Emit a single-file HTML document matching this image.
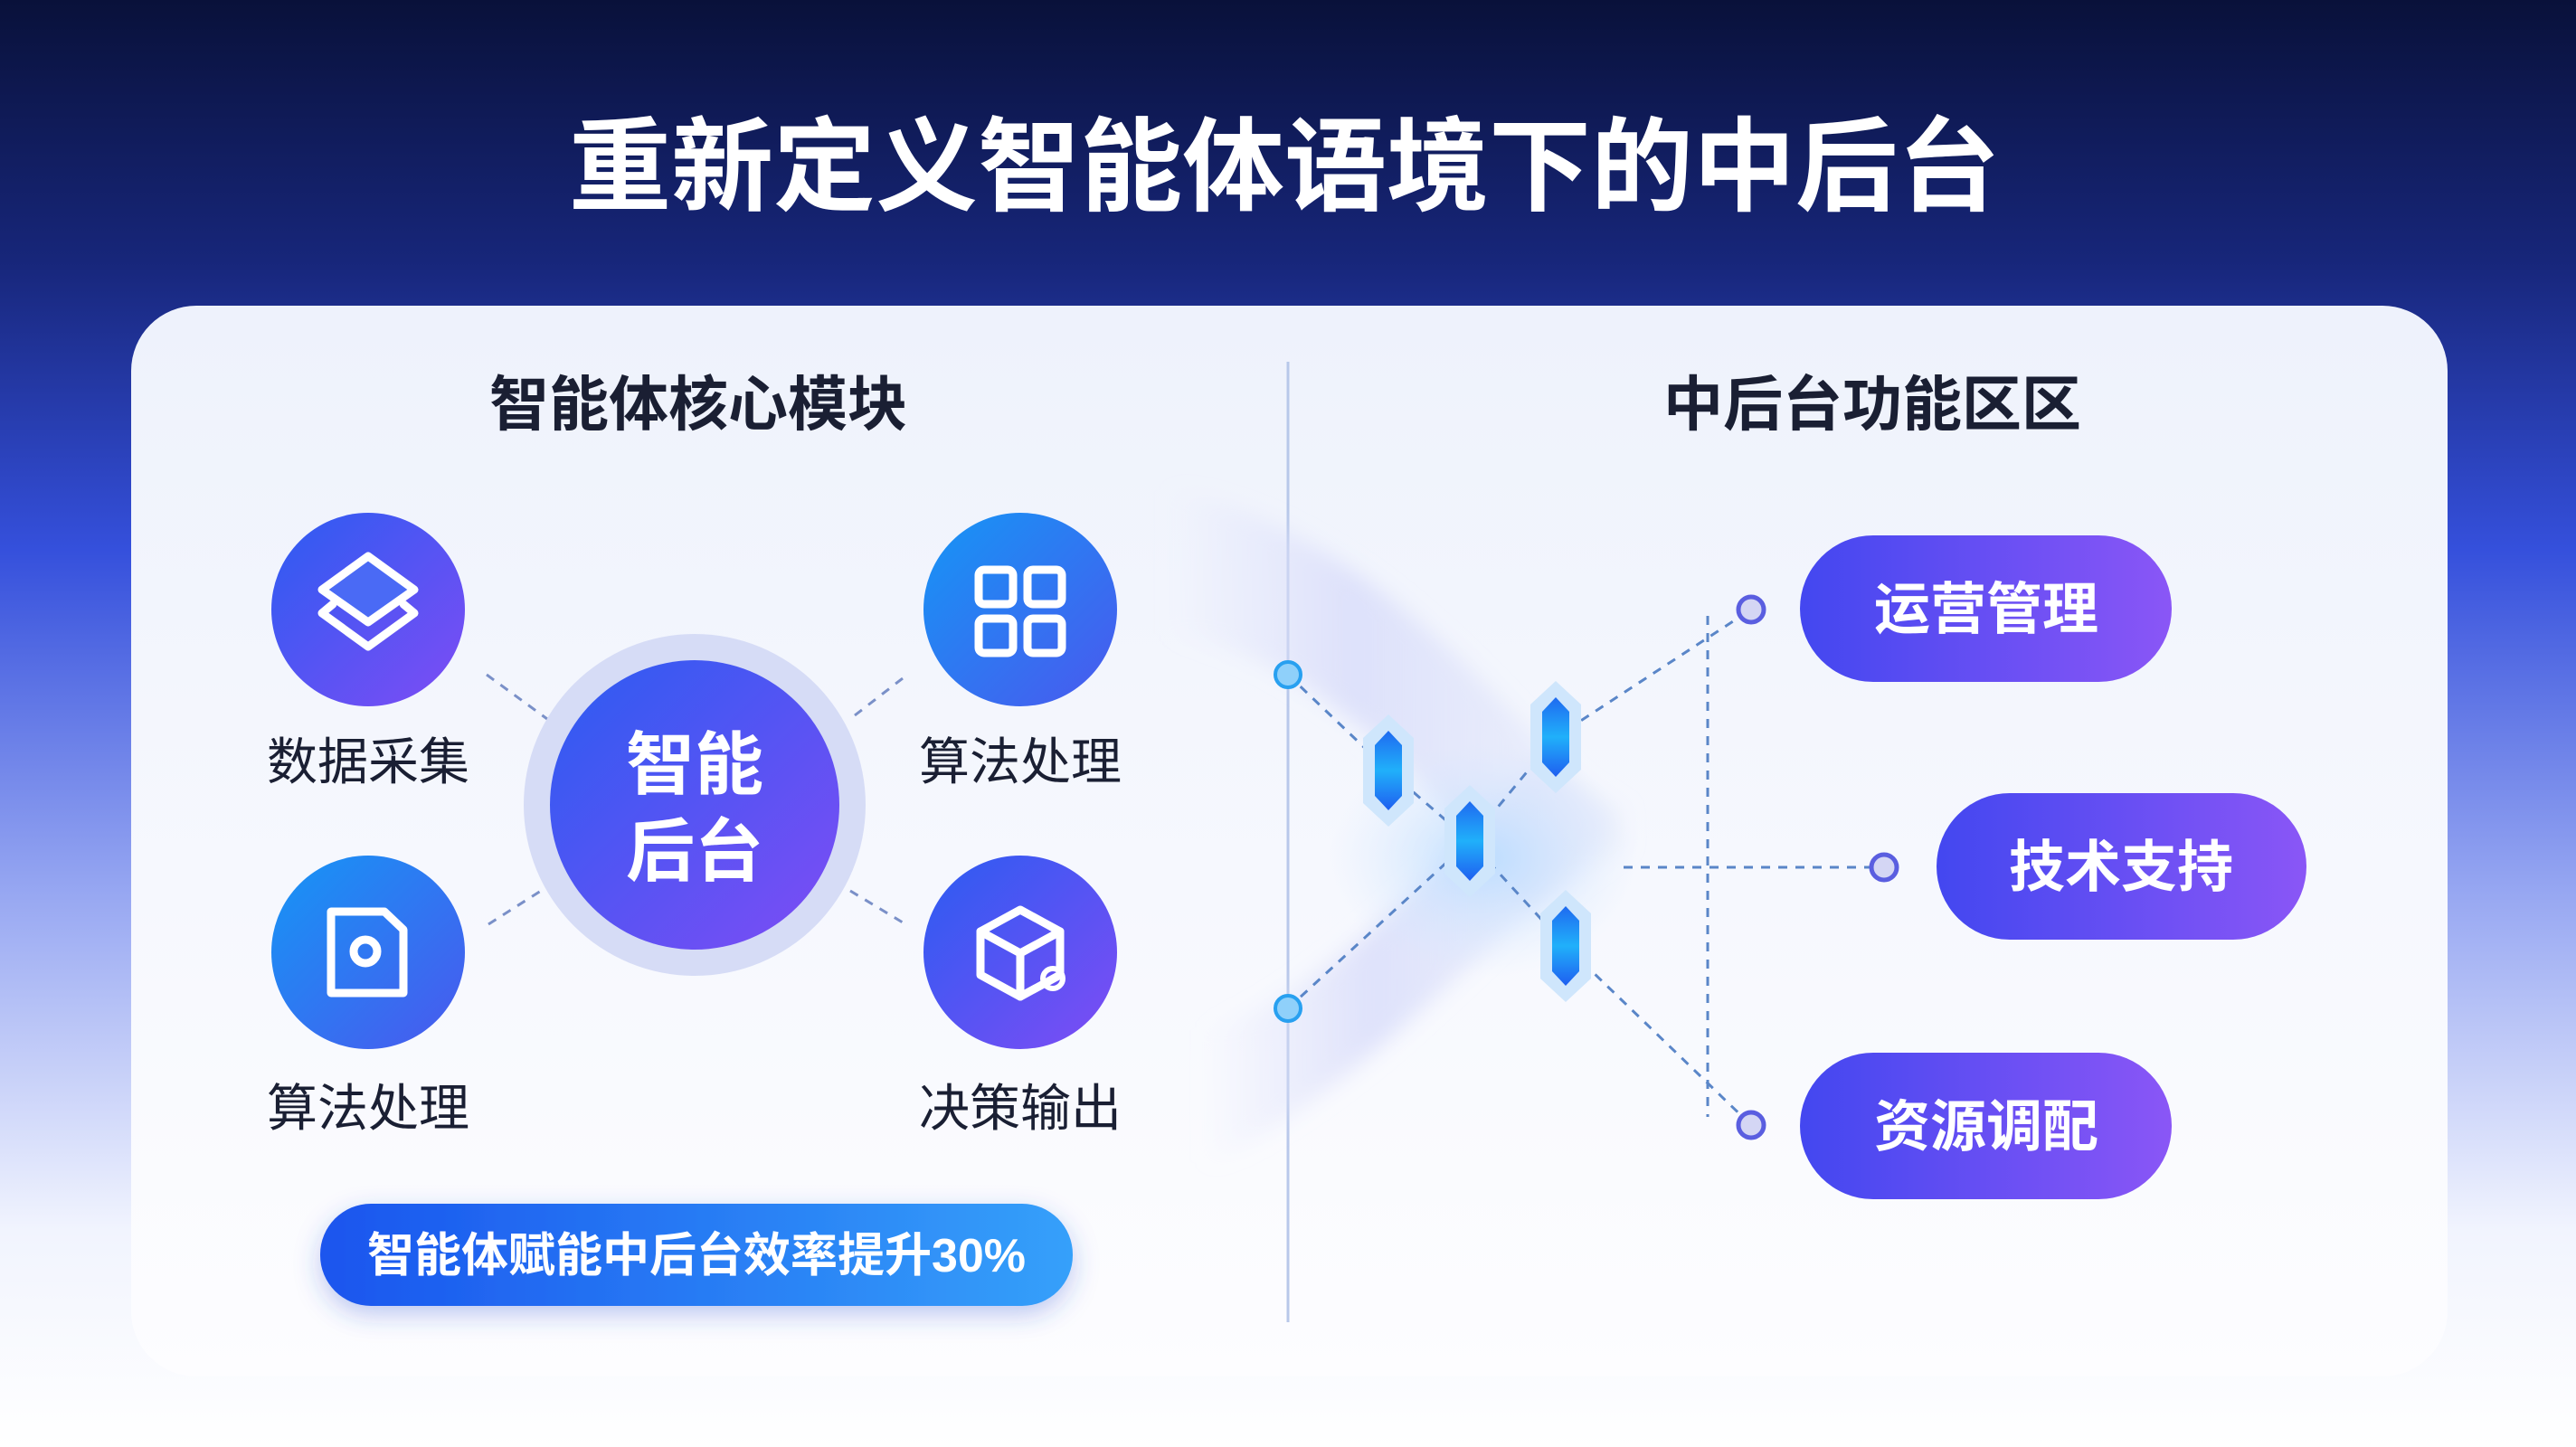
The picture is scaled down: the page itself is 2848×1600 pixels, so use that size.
<!DOCTYPE html>
<html><head><meta charset="utf-8"><style>
html,body{margin:0;padding:0;width:2848px;height:1600px;overflow:hidden}
svg text{font-family:"Liberation Sans","Noto Sans CJK SC",sans-serif}
</style></head><body>
<svg width="2848" height="1600" viewBox="0 0 2848 1600" xmlns="http://www.w3.org/2000/svg">
<defs>
<linearGradient id="bg" x1="0" y1="0" x2="0" y2="1">
<stop offset="0" stop-color="#09113a"/><stop offset="0.18" stop-color="#17267a"/>
<stop offset="0.38" stop-color="#3550dc"/><stop offset="0.62" stop-color="#98a8f2"/>
<stop offset="0.85" stop-color="#f1f4fe"/><stop offset="1" stop-color="#ffffff"/></linearGradient>
<linearGradient id="card" x1="0" y1="0" x2="0" y2="1">
<stop offset="0" stop-color="#eef2fc"/><stop offset="1" stop-color="#fdfdff"/></linearGradient>
<linearGradient id="cp" x1="0" y1="0" x2="1" y2="1">
<stop offset="0" stop-color="#2b5cf2"/><stop offset="1" stop-color="#7f4cf4"/></linearGradient>
<linearGradient id="cb" x1="0" y1="0" x2="1" y2="1">
<stop offset="0" stop-color="#1596f5"/><stop offset="1" stop-color="#4a58ee"/></linearGradient>
<linearGradient id="pill" x1="0" y1="0" x2="1" y2="0">
<stop offset="0" stop-color="#4347f0"/><stop offset="1" stop-color="#8a56f6"/></linearGradient>
<linearGradient id="bp" x1="0" y1="0" x2="1" y2="0">
<stop offset="0" stop-color="#1a55ee"/><stop offset="1" stop-color="#35a0fa"/></linearGradient>
<linearGradient id="hex" x1="0" y1="0" x2="0" y2="1">
<stop offset="0" stop-color="#1f6af0"/><stop offset="0.5" stop-color="#20b0fa"/><stop offset="1" stop-color="#1f5ef0"/></linearGradient>
<linearGradient id="rib" x1="0" y1="0" x2="1" y2="0">
<stop offset="0" stop-color="#dde0fa" stop-opacity="0"/><stop offset="0.4" stop-color="#d8dcfa" stop-opacity="0.8"/><stop offset="1" stop-color="#dde4fa" stop-opacity="0.3"/></linearGradient>
<radialGradient id="glow"><stop offset="0" stop-color="#b8dcff" stop-opacity="0.9"/><stop offset="1" stop-color="#d8e8ff" stop-opacity="0"/></radialGradient>
<filter id="sh" x="-20%" y="-40%" width="140%" height="180%"><feDropShadow dx="0" dy="10" stdDeviation="14" flood-color="#3050d0" flood-opacity="0.3"/></filter>
<filter id="bl"><feGaussianBlur stdDeviation="12"/></filter>
</defs>
<rect width="2848" height="1600" fill="url(#bg)"/>
<text x="1420" y="224" font-size="113" font-weight="bold" fill="#fff" text-anchor="middle">重新定义智能体语境下的中后台</text>
<rect x="145" y="338" width="2561" height="1184" rx="72" fill="url(#card)"/>
<line x1="1424" y1="400" x2="1424" y2="1462" stroke="#b8c8ea" stroke-width="3"/>
<text x="772" y="470" font-size="66" font-weight="bold" fill="#1a1f33" text-anchor="middle">智能体核心模块</text>
<text x="2070" y="470" font-size="66" font-weight="bold" fill="#1a1f33" text-anchor="middle">中后台功能区区</text>

<g stroke="#7a90c8" stroke-width="3" stroke-dasharray="10 9" fill="none">
<line x1="538" y1="746" x2="605" y2="795"/><line x1="945" y1="791" x2="998" y2="750"/>
<line x1="540" y1="1022" x2="598" y2="985"/><line x1="940" y1="985" x2="998" y2="1020"/>
</g>
<circle cx="768" cy="890" r="189" fill="#d6dcf6"/>
<circle cx="768" cy="890" r="160" fill="url(#cp)"/>
<text x="768" y="872" font-size="76" font-weight="bold" fill="#fff" text-anchor="middle">智能</text>
<text x="768" y="968" font-size="76" font-weight="bold" fill="#fff" text-anchor="middle">后台</text>

<circle cx="407" cy="674" r="107" fill="url(#cp)"/>
<circle cx="1128" cy="674" r="107" fill="url(#cb)"/>
<circle cx="407" cy="1053" r="107" fill="url(#cb)"/>
<circle cx="1128" cy="1053" r="107" fill="url(#cp)"/>
<g stroke="#fff" stroke-width="9" fill="none" stroke-linejoin="round" stroke-linecap="round">
<path d="M407 615 L458 652 L407 688 L356 652 Z" fill="#4a6af5"/>
<path d="M368 668 L356 678 L407 715 L458 678 L446 668"/>
<rect x="1082" y="630" width="38" height="38" rx="6"/><rect x="1136" y="630" width="38" height="38" rx="6"/>
<rect x="1082" y="684" width="38" height="38" rx="6"/><rect x="1136" y="684" width="38" height="38" rx="6"/>
<path d="M366 1008 L425 1008 L446 1028 L446 1098 L366 1098 Z"/>
<circle cx="404" cy="1052" r="13"/>
<path d="M1128 1006 L1172 1030 L1172 1078 L1128 1102 L1084 1078 L1084 1030 Z"/>
<path d="M1084 1030 L1128 1054 L1172 1030 M1128 1054 L1128 1102"/>
</g>
<circle cx="1164" cy="1082" r="11" fill="none" stroke="#fff" stroke-width="6"/>
<g font-size="56" fill="#1a1f33" text-anchor="middle">
<text x="407" y="862">数据采集</text><text x="1128" y="862">算法处理</text>
<text x="407" y="1245">算法处理</text><text x="1128" y="1245">决策输出</text></g>

<rect x="354" y="1331" width="832" height="113" rx="56" fill="url(#bp)" filter="url(#sh)"/>
<text x="770" y="1406" font-size="52" font-weight="bold" fill="#fff" text-anchor="middle">智能体赋能中后台效率提升30%</text>

<g filter="url(#bl)">
<path d="M1290 540 C1480 580 1620 720 1800 930 L1690 1010 C1560 830 1430 720 1290 700 Z" fill="url(#rib)"/>
<path d="M1330 1290 C1480 1220 1620 1070 1800 900 L1700 840 C1560 1000 1440 1110 1330 1140 Z" fill="url(#rib)"/>
</g>
<ellipse cx="1640" cy="950" rx="170" ry="130" fill="url(#glow)"/>
<g stroke="#5a86c8" stroke-width="3" stroke-dasharray="10 9" fill="none">
<polyline points="1424,746 1535,852 1625,930 1731,1046 1936,1244"/>
<polyline points="1424,1115 1625,930 1720,815 1936,674"/>
<line x1="1795" y1="959" x2="2068" y2="959"/>
<line x1="1888" y1="681" x2="1888" y2="1235"/>
</g>
<g>
<g transform="translate(1535,852)"><path d="M0 -62 L28 -36 L28 36 L0 62 L-28 36 L-28 -36 Z" fill="#cfe6fc"/><path d="M0 -44 L15 -28 L15 28 L0 44 L-15 28 L-15 -28 Z" fill="url(#hex)"/></g>
<g transform="translate(1720,815)"><path d="M0 -62 L28 -36 L28 36 L0 62 L-28 36 L-28 -36 Z" fill="#cfe6fc"/><path d="M0 -44 L15 -28 L15 28 L0 44 L-15 28 L-15 -28 Z" fill="url(#hex)"/></g>
<g transform="translate(1625,930)"><path d="M0 -62 L28 -36 L28 36 L0 62 L-28 36 L-28 -36 Z" fill="#cfe6fc"/><path d="M0 -44 L15 -28 L15 28 L0 44 L-15 28 L-15 -28 Z" fill="url(#hex)"/></g>
<g transform="translate(1731,1046)"><path d="M0 -62 L28 -36 L28 36 L0 62 L-28 36 L-28 -36 Z" fill="#cfe6fc"/><path d="M0 -44 L15 -28 L15 28 L0 44 L-15 28 L-15 -28 Z" fill="url(#hex)"/></g>
</g>
<circle cx="1424" cy="746" r="14" fill="#8fd0fa" stroke="#28a0f0" stroke-width="4"/>
<circle cx="1424" cy="1115" r="14" fill="#8fd0fa" stroke="#28a0f0" stroke-width="4"/>
<g fill="#d4d6f4" stroke="#5a5ee0" stroke-width="5">
<circle cx="1936" cy="674" r="14"/><circle cx="2083" cy="959" r="14"/><circle cx="1936" cy="1244" r="14"/></g>
<rect x="1990" y="592" width="411" height="162" rx="81" fill="url(#pill)"/>
<rect x="2141" y="877" width="409" height="162" rx="81" fill="url(#pill)"/>
<rect x="1990" y="1164" width="411" height="162" rx="81" fill="url(#pill)"/>
<g font-size="62" font-weight="bold" fill="#fff" text-anchor="middle">
<text x="2196" y="695">运营管理</text><text x="2345" y="980">技术支持</text><text x="2196" y="1267">资源调配</text></g>
</svg>
</body></html>
